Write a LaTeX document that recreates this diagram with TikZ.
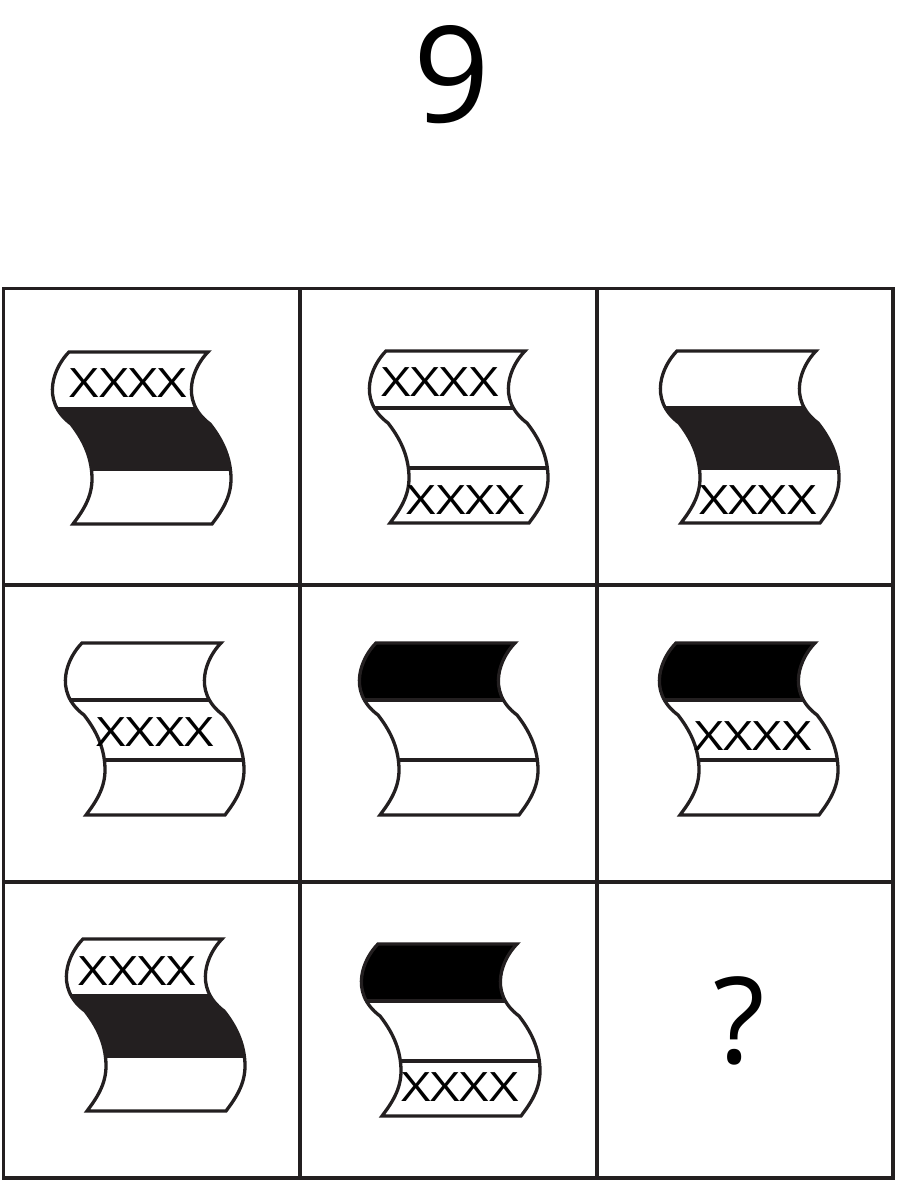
\documentclass[tikz,border=0pt]{standalone}
\usepackage{fontspec}
\setmainfont{Open Sans}
\usepackage{graphicx}
\definecolor{dk}{HTML}{231F20}
\tikzset{
  gridline/.style={draw=dk, line width=3.6pt},
  shapeline/.style={draw=dk, line width=3.3pt, line join=miter},
  wave/.style={insert path={(0,0) .. controls (-14,14) and (-30,48) .. (2,72) .. controls (13,86) and (23,104) .. (23,127) .. controls (23,146) and (13,160) .. (4,172) -- (143,172) .. controls (152,160) and (162,146) .. (162,127) .. controls (162,104) and (152,86) .. (141,72) .. controls (109,48) and (125,14) .. (139,0) -- cycle}},
  xtext/.style={inner sep=0pt, font=\fontsize{40.5}{42}\selectfont},
  bigtext/.style={inner sep=0pt, anchor=base}
}
\newcommand\xxxx{\scalebox{1.26}[1]{XXXX}}
\newcommand\wshape[5]{%
  \begin{scope}[shift={(#1,#2)}]
    \begin{scope}
      \clip[wave];
      \fill[#3] (-40,-5) rectangle (200,57);
      \fill[#4] (-40,57) rectangle (200,117);
      \fill[#5] (-40,117) rectangle (200,180);
      \draw[shapeline] (-40,57) -- (200,57) (-40,117) -- (200,117);
    \end{scope}
    \path[shapeline, wave];
  \end{scope}}
\begin{document}
\begin{tikzpicture}[x=1pt,y=-1pt]
\useasboundingbox (0,0) rectangle (896,1182);
% title
\node[bigtext, font=\fontsize{134}{140}\selectfont] (title) at (451.5,123) {9};
% grid
\draw[gridline] (3.5,288.5) rectangle (893,1178);
\draw[gridline] (300,288.5) -- (300,1178) (597,288.5) -- (597,1178);
\draw[gridline] (3.5,585) -- (893,585) (3.5,882) -- (893,882);
% row 1
\wshape{69}{352}{white}{dk}{white}
\wshape{386}{351}{white}{white}{white}
\wshape{677}{351}{white}{dk}{white}
% row 2
\wshape{82}{643}{white}{white}{white}
\wshape{376}{643}{black}{white}{white}
\wshape{676}{643}{black}{white}{white}
% row 3
\wshape{83}{939}{white}{dk}{white}
\wshape{378}{944}{black}{white}{white}
% texts
\node[xtext] (t11) at (128.5,383.5) {\xxxx};
\node[xtext] (t12a) at (440,382) {\xxxx};
\node[xtext] (t12b) at (465.7,500) {\xxxx};
\node[xtext] (t13) at (758,500) {\xxxx};
\node[xtext] (t21) at (155.4,731.7) {\xxxx};
\node[xtext] (t23) at (753,736.4) {\xxxx};
\node[xtext] (t31) at (137.5,971) {\xxxx};
\node[xtext] (t32) at (460,1087.5) {\xxxx};
% question mark
\node[bigtext, font=\fontsize{120}{124}\selectfont] (q) at (739,1063) {?};
\end{tikzpicture}
\end{document}
